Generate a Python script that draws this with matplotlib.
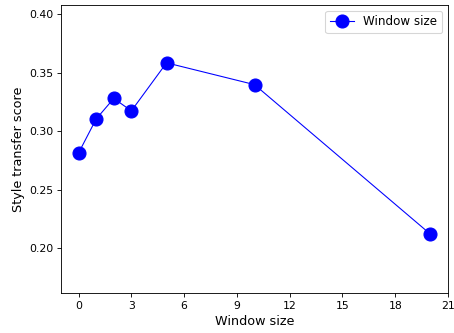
import matplotlib
matplotlib.use("Agg")
import matplotlib.pyplot as plt

window_sizes = [0, 1, 2, 3, 5, 10, 20]
scores = [0.2815, 0.3105, 0.328, 0.3174, 0.3584, 0.3398, 0.2122]
xticks = [0, 3, 6, 9, 12, 15, 18, 21]

DPI = 78
fig = plt.figure(figsize=(454 / DPI, 333 / DPI), dpi=DPI)
ax = fig.add_axes([61 / 454, 1 - 293 / 333, (448 - 61) / 454, (293 - 4.7) / 333])
ax.plot(window_sizes, scores, color="blue", marker="o", markersize=12, linewidth=1, label="Window size")
ax.set_xlim(-1, 21)
ax.set_ylim(0.162, 0.408)
ax.set_xticks(xticks)
ax.set_yticks([0.20, 0.25, 0.30, 0.35, 0.40])
ax.tick_params(labelsize=10)
ax.set_xlabel("Window size", fontsize=11.75)
ax.set_ylabel("Style transfer score", fontsize=11.75)
ax.legend(loc="upper right", fontsize=11)
fig.savefig("out.png", dpi=DPI)
